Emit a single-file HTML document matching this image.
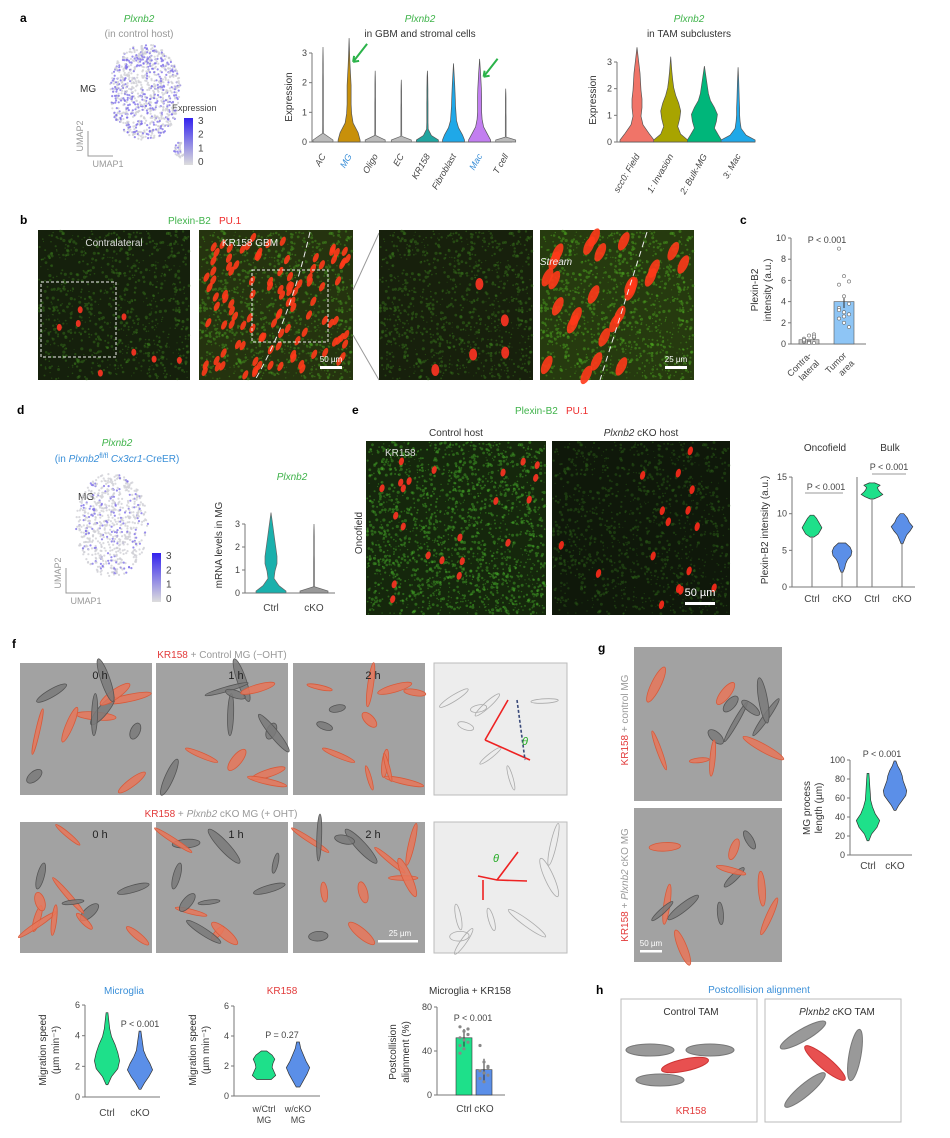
<!DOCTYPE html>
<html><head><meta charset="utf-8"><style>
html,body{margin:0;padding:0;background:#fff}
svg{display:block;font-family:"Liberation Sans",Arial,sans-serif}
.t{font-size:10px;fill:#333}
.tk{font-size:9px;fill:#444}
.pl{font-size:12px;font-weight:bold;fill:#000}
.g{fill:#3fb34a;font-style:italic}
</style></head><body>
<svg id="fig" width="950" height="1138" viewBox="0 0 950 1138">
<g id="static">
<text x="20" y="22" class="pl">a</text>
<text x="139" y="22" class="t g" text-anchor="middle" font-size="11">Plxnb2</text>
<text x="139" y="37" class="t" style="fill:#999" text-anchor="middle" font-size="11">(in control host)</text>
<text x="80" y="92" class="t" font-size="11">MG</text>
<text x="172" y="111" class="tk">Expression</text>
<text x="420" y="22" class="t g" text-anchor="middle" font-size="11">Plxnb2</text>
<text x="420" y="37" class="t" text-anchor="middle" font-size="11">in GBM and stromal cells</text>
<text x="689" y="22" class="t g" text-anchor="middle" font-size="11">Plxnb2</text>
<text x="689" y="37" class="t" text-anchor="middle" font-size="11">in TAM subclusters</text>
<text x="20" y="224" class="pl">b</text>
<text x="168" y="224" class="t" style="fill:#3fb34a" font-size="11">Plexin-B2</text>
<text x="219" y="224" class="t" style="fill:#ee2a2a" font-size="11">PU.1</text>
<text x="740" y="224" class="pl">c</text>
<text x="17" y="414" class="pl">d</text>
<text x="117" y="446" class="t g" text-anchor="middle" font-size="11">Plxnb2</text>
<text x="117" y="462" class="t" style="fill:#3a8fd8" text-anchor="middle" font-size="11">(in <tspan font-style="italic">Plxnb2</tspan><tspan font-size="7" dy="-4">fl/fl</tspan><tspan dy="4"> </tspan><tspan font-style="italic">Cx3cr1</tspan>-CreER)</text>
<text x="78" y="500" class="t" font-size="11">MG</text>
<text x="292" y="480" class="t g" text-anchor="middle" font-size="11">Plxnb2</text>
<text x="352" y="414" class="pl">e</text>
<text x="515" y="414" class="t" style="fill:#3fb34a" font-size="11">Plexin-B2</text>
<text x="566" y="414" class="t" style="fill:#ee2a2a" font-size="11">PU.1</text>
<text x="456" y="436" class="t" text-anchor="middle" font-size="11">Control host</text>
<text x="641" y="436" class="t" text-anchor="middle" font-size="11"><tspan font-style="italic">Plxnb2</tspan> cKO host</text>
<text x="362" y="533" class="t" text-anchor="middle" font-size="11" transform="rotate(-90 362 533)">Oncofield</text>
<text x="825" y="451" class="t" text-anchor="middle" font-size="11">Oncofield</text>
<text x="890" y="451" class="t" text-anchor="middle" font-size="11">Bulk</text>
<text x="12" y="648" class="pl">f</text>
<text x="222" y="658" class="t" text-anchor="middle" font-size="11"><tspan style="fill:#e23a3a">KR158</tspan><tspan style="fill:#999"> + Control MG (−OHT)</tspan></text>
<text x="221" y="817" class="t" text-anchor="middle" font-size="11"><tspan style="fill:#e23a3a">KR158</tspan><tspan style="fill:#999"> + <tspan font-style="italic">Plxnb2</tspan> cKO MG (+ OHT)</tspan></text>
<text x="598" y="652" class="pl">g</text>
<text x="628" y="720" class="t" text-anchor="middle" font-size="10" transform="rotate(-90 628 720)"><tspan style="fill:#e23a3a">KR158</tspan><tspan style="fill:#999"> + control MG</tspan></text>
<text x="628" y="885" class="t" text-anchor="middle" font-size="10" transform="rotate(-90 628 885)"><tspan style="fill:#e23a3a">KR158</tspan><tspan style="fill:#999"> + <tspan font-style="italic">Plxnb2</tspan> cKO MG</tspan></text>
<text x="124" y="994" class="t" style="fill:#3a8fd8" text-anchor="middle" font-size="11">Microglia</text>
<text x="282" y="994" class="t" style="fill:#e23a3a" text-anchor="middle" font-size="11">KR158</text>
<text x="470" y="994" class="t" text-anchor="middle" font-size="11">Microglia + KR158</text>
<text x="596" y="994" class="pl">h</text>
<text x="759" y="993" class="t" style="fill:#3a8fd8" text-anchor="middle" font-size="11">Postcollision alignment</text>
<text x="691" y="1015" class="t" text-anchor="middle" font-size="10">Control TAM</text>
<text x="837" y="1015" class="t" text-anchor="middle" font-size="10"><tspan font-style="italic">Plxnb2</tspan> cKO TAM</text>
</g>
</svg>
<script>
// ---------- data ----------
const a1Cats=["AC","MG","Oligo","EC","KR158","Fibroblast","Mac","T cell"];
const a1Max=[3.2,3.5,2.4,2.1,2.4,2.65,2.8,1.8];
const a1Prof=[[10,0.5,0.4,0.4,0.4,0.4,0.4,0.4,0.3,0.3,0.2,0],[11,9,4,2.5,2,2,2,1.5,1,0.6,0.3,0],[10,0.5,0.4,0.4,0.4,0.4,0.4,0.3,0.3,0.3,0.2,0],[10,0.5,0.4,0.4,0.4,0.4,0.4,0.3,0.3,0.3,0.2,0],[11,4,0.8,0.6,0.6,0.6,0.6,0.5,0.5,0.4,0.3,0],[11,9,5,3,2.5,2,1.8,1.5,1.2,0.8,0.4,0],[11,8,4,2.5,2,2,2,1.8,1.4,1,0.5,0],[10,0.4,0.4,0.4,0.4,0.4,0.3,0.3,0.3,0.3,0.2,0]];
const a1Cols=["#bbb","#c8900a","#bbb","#bbb","#1fa5a0","#1fa8e8","#c27ef0","#bbb"];
const a2Cats=["scc0: Field","1: Invasion","2: Bulk-MG","3: Mac"];
const a2Max=[3.55,3.2,2.85,2.8];
const a2Prof=[[17,12,6,4,5,5,4,3.5,3,2,1,0],[17,10,7,9,10,8,5,3,2,1.2,0.6,0],[17,14,10,12,13,10,6,4,3,2,1,0],[17,8,3,2,1.5,1.5,1.2,1,0.8,0.6,0.3,0]];
const a2Cols=["#f07468","#a8a400","#00b67a","#1fa8e8"];
const cCats=["Contra-\nlateral","Tumor\narea"];
const cMeans=[0.4,4.0];
const cErr=[0.1,0.6];
const cPts=[[0.2,0.3,0.1,0.5,0.8,0.9,0.3,0.2,0.6,0.4,0.1,0.7],[9.0,6.4,5.9,5.6,4.5,3.8,3.4,3.0,2.8,2.4,2.0,1.6,3.2,2.6]];
const dCats=["Ctrl","cKO"];
const dMin=[0,0];const dMax=[3.5,3.0];
const dProf=[[15,8,3,4,6,6,5,4,3,2,1,0],[14,0.4,0.4,0.4,0.4,0.4,0.3,0.3,0.3,0.3,0.2,0]];
const eCats=["Ctrl","cKO","Ctrl","cKO"];
const eMin=[6.8,2.0,12.0,5.9];const eMax=[9.8,6.0,14.2,10.0];
const eProf=[[2,7,9,11,9,7,5,2],[1,3,4,6,10,11,9,4],[2,8,12,9,7,6,9,3],[1,3,5,9,12,8,6,2]];
const gCats=["Ctrl","cKO"];
const gMin=[15,47];const gMax=[86,99];
const gProf=[[1,4,10,13,8,5,3,2.5,2,1.5,1],[1,4,8,12,13,11,9,8,6,3,1]];
const mCats=["Ctrl","cKO"];
const mMin=[0.8,0.5];const mMax=[5.5,4.3];
const mProf=[[1,5,12,14,12,9,5,3,2,1],[1,5,10,14,11,7,4,3,2,1]];
const kCats=["w/Ctrl\nMG","w/cKO\nMG"];
const kMin=[1.1,0.6];const kMax=[3.0,3.6];
const kProf=[[8,13,11,9,10,12,9,3],[2,6,10,13,9,6,3,1.5]];
const pCats=["Ctrl","cKO"];
const pMeans=[52,23];
const pErr=[8,10];
const pPts=[[62,58,55,52,50,48,45,42,60,38],[45,30,26,22,20,18,15,12,25]];

const NS="http://www.w3.org/2000/svg";
const svg=document.getElementById('fig');
function mk(tag,attrs,name,parent){const el=document.createElementNS(NS,tag);for(const k in attrs)el.setAttribute(k,attrs[k]);


(parent||svg).appendChild(el);return el;}
function txt(x,y,s,name,opt){opt=opt||{};const t=mk('text',{x:x,y:y,'font-size':opt.fs||9,fill:opt.fill||'#444','text-anchor':opt.anchor||'middle'},name,opt.parent);
if(opt.rot!==undefined)t.setAttribute('transform','rotate('+opt.rot+' '+x+' '+y+')');
if(opt.it)t.setAttribute('font-style','italic');
const lines=String(s).split('\n');lines.forEach((l,i)=>{const ts=document.createElementNS(NS,'tspan');ts.setAttribute('x',x);ts.setAttribute('dy',i?11:0);ts.textContent=l;t.appendChild(ts);});return t;}
function hash(i){const v=Math.sin(i*12.9898+78.233)*43758.5453;return v-Math.floor(v);}
function axis(ax,x0,x1,y,ticks,name,ext){
 mk('line',{x1:ax,y1:y(ticks[ticks.length-1]),x2:ax,y2:y(ticks[0])+(ext||0),stroke:'#777','stroke-width':1},name+'-y-axis');
 mk('line',{x1:ax,y1:y(ticks[0])+(ext||0),x2:x1,y2:y(ticks[0])+(ext||0),stroke:'#777','stroke-width':1},name+'-x-axis');
 ticks.forEach(t=>{mk('line',{x1:ax-3,y1:y(t),x2:ax,y2:y(t),stroke:'#777'},name+'-y-tick');txt(ax-5,y(t)+3,t,name+'-y-tick-label',{anchor:'end'});});}
function violin(cx,lo,hi,prof,y,fill,stroke,name,scale,flat){
 scale=scale||1;const n=prof.length;let L=[],R=[];
 for(let i=0;i<n;i++){const v=lo+(hi-lo)*i/(n-1);const w=prof[i]*scale;R.push([cx+w,y(v)]);L.push([cx-w,y(v)]);}
 if(flat){R.splice(1,0,[cx+prof[0]*scale,y(lo)-2]);L.splice(1,0,[cx-prof[0]*scale,y(lo)-2]);}
 let d='M'+cx+','+y(lo);R.forEach(p=>d+=' L'+p[0].toFixed(1)+','+p[1].toFixed(1));d+=' L'+cx+','+y(hi);L.reverse().forEach(p=>d+=' L'+p[0].toFixed(1)+','+p[1].toFixed(1));d+='Z';
 mk('path',{d:d,fill:fill,stroke:stroke,'stroke-width':0.7},name);}

// ---------- UMAP ----------
function umap(cx,cy,rx,ry,n,seed,dens,name){
 const g=mk('g',{},name);
 for(let i=0;i<n;i++){const a=hash(seed+i)*6.283,r=Math.sqrt(hash(seed+i+999));let x=cx+Math.cos(a)*rx*r,yy=cy+Math.sin(a)*ry*r;
  const purple=hash(seed+i*3+7)<dens;
  mk('circle',{cx:x.toFixed(1),cy:yy.toFixed(1),r:1.1,fill:purple?'#8070e8':'#cfcfd6','fill-opacity':0.8},'umap-cell',g);}
 return g;}
umap(145,92,36,48,900,1,0.4,'umap-a-cells');
umap(180,150,6,8,40,5000,0.3,'umap-a-tail');
function ubar(x,y0,y1,name){
 const gr=mk('linearGradient',{id:name+'grad',x1:0,y1:1,x2:0,y2:0},name+'-gradient');
 mk('stop',{offset:'0','stop-color':'#ddd'},'grad-stop',gr);mk('stop',{offset:'1','stop-color':'#3322ee'},'grad-stop',gr);
 mk('rect',{x:x,y:y0,width:9,height:y1-y0,fill:'url(#'+name+'grad)'},name);
 [3,2,1,0].forEach((t,i)=>txt(x+14,y0+6+i*(y1-y0-6)/3,t,name+'-tick',{anchor:'start',fs:10}));}
ubar(184,118,165,'umap-a-colorbar');
function uaxes(x,y,name){
 mk('path',{d:'M'+x+','+(y-25)+' L'+x+','+y+' L'+(x+25)+','+y,stroke:'#999',fill:'none'},name);
 txt(x+20,y+11,'UMAP1',name+'-x-label',{fill:'#999',fs:9});txt(x-5,y-20,'UMAP2',name+'-y-label',{fill:'#999',fs:9,rot:-90});}
uaxes(88,156,'umap-a-axes');

// violin a1
const ya1=v=>142-29.67*v;
axis(312,312,512,ya1,[0,1,2,3],'violin-a1');
txt(292,97,'Expression','violin-a1-y-title',{rot:-90,fs:10,fill:'#333'});
const a1X=i=>323+i*26.1;
a1Cats.forEach((c,i)=>{violin(a1X(i),0,a1Max[i],a1Prof[i],ya1,a1Cols[i],a1Cols[i]=='#bbb'?'#666':'#555','violin-'+c.toLowerCase().replace(' ','-'),1,true);
 txt(a1X(i)+3,156,c,'violin-a1-x-label',{anchor:'end',rot:-60,it:true,fill:(c=='MG'||c=='Mac')?'#3a8fd8':'#444'});});
[[1,2.7],[6,2.2]].forEach(p=>{const x=a1X(p[0])+4,y=ya1(p[1]);mk('path',{d:'M'+(x+14)+','+(y-18)+' L'+x+','+y+' M'+x+','+y+' l1,-6 M'+x+','+y+' l6,-1',stroke:'#2bb34a','stroke-width':2,fill:'none'},'green-arrow');});
// violin a2
const ya2=v=>142-26.67*v;
axis(617,617,755,ya2,[0,1,2,3],'violin-a2');
txt(596,100,'Expression','violin-a2-y-title',{rot:-90,fs:10,fill:'#333'});
const a2X=i=>637+i*33.7;
a2Cats.forEach((c,i)=>{violin(a2X(i),0,a2Max[i],a2Prof[i],ya2,a2Cols[i],'#555','violin-tam-'+i,1,true);
 txt(a2X(i)+3,156,c,'violin-a2-x-label',{anchor:'end',rot:-60,it:true});});

// ---------- microscopy ----------
function micro(x,y,w,h,bg,dotCol,nd,seed,red,nr,rw,rh,ang,name){
 const g=mk('g',{},name);
 mk('rect',{x:x,y:y,width:w,height:h,fill:bg},name+'-bg',g);
 for(let i=0;i<nd;i++){mk('circle',{cx:(x+1+hash(seed+i)*(w-2)).toFixed(1),cy:(y+1+hash(seed+i+500)*(h-2)).toFixed(1),r:(0.5+hash(seed+i+77)*1.1).toFixed(1),fill:dotCol,'fill-opacity':0.45},'texture',g);}
 for(let i=0;i<nr;i++){const cx=x+5+hash(seed*3+i)*(w-10),cy=y+5+hash(seed*3+i+333)*(h-10);
  mk('ellipse',{cx:cx.toFixed(1),cy:cy.toFixed(1),rx:rw,ry:rh,fill:red,'fill-opacity':0.9,transform:'rotate('+ang+' '+cx.toFixed(1)+' '+cy.toFixed(1)+')'},'nucleus',g);}
 return g;}
micro(38,230,152,150,'#15200c','#3a7a1c',900,11,'#ff3322',8,2.5,3.5,0,'b-contralateral-image');
txt(114,246,'Contralateral','b-contralateral-label',{fill:'#ddd',fs:10});
mk('rect',{x:41,y:282,width:75,height:75,fill:'none',stroke:'#eee','stroke-dasharray':'3,2'},'b-inset-box');
micro(199,230,154,150,'#25330f','#4aa022',1100,21,'#ff3a1a',110,2.5,5,25,'b-kr158-image');
txt(250,246,'KR158 GBM','b-kr158-label',{fill:'#eee',fs:10});
mk('rect',{x:252,y:270,width:76,height:72,fill:'none',stroke:'#eee','stroke-dasharray':'3,2'},'b-inset-box-2');
mk('path',{d:'M310,232 Q290,320 255,380',stroke:'#eee','stroke-dasharray':'6,4',fill:'none'},'b-boundary');
mk('line',{x1:353,y1:290,x2:379,y2:233,stroke:'#999'},'zoom-line');
mk('line',{x1:353,y1:335,x2:379,y2:380,stroke:'#999'},'zoom-line');
micro(379,230,154,150,'#17200c','#3a7a1c',1000,31,'#ff3322',5,4,6,0,'b-zoom-contralateral');
micro(540,230,154,150,'#263a0f','#50b022',1100,41,'#ff3a1a',26,4.5,10,25,'b-zoom-stream');
txt(556,265,'Stream','b-stream-label',{fill:'#eee',fs:10,it:true});
mk('line',{x1:647,y1:232,x2:600,y2:380,stroke:'#eee','stroke-dasharray':'6,4'},'b-stream-boundary');
mk('rect',{x:320,y:366,width:22,height:3,fill:'#fff'},'b-scale-bar');txt(331,362,'50 µm','b-scale-label',{fill:'#fff',fs:8});
mk('rect',{x:665,y:366,width:22,height:3,fill:'#fff'},'b-scale-bar-2');txt(676,362,'25 µm','b-scale-label-2',{fill:'#fff',fs:8});

micro(366,441,180,174,'#15270c','#48b02a',1800,51,'#ff3322',22,2.5,4,15,'e-control-image');
txt(385,456,'KR158','e-kr158-label',{fill:'#ddd',fs:10,anchor:'start'});
micro(552,441,178,174,'#0f180a','#2c6218',1200,61,'#ff2a1a',16,2.5,4.5,15,'e-cko-image');
mk('rect',{x:685,y:602,width:30,height:3,fill:'#fff'},'e-scale-bar');txt(700,596,'50 µm','e-scale-label',{fill:'#fff',fs:11});

// panel c
const yc=v=>344-10.6*v;
axis(791,791,866,yc,[0,2,4,6,8,10],'c-chart');
txt(758,290,'Plexin-B2','c-y-title',{rot:-90,fs:10,fill:'#333'});txt(771,290,'intensity (a.u.)','c-y-title-2',{rot:-90,fs:10,fill:'#333'});
const cX=i=>809+i*35;
cMeans.forEach((m,i)=>{mk('rect',{x:cX(i)-10,y:yc(m),width:20,height:yc(0)-yc(m),fill:i?'#8ec5f5':'#ccc',stroke:'#555','stroke-width':0.6},'c-bar-'+i);
 mk('line',{x1:cX(i),y1:yc(m-cErr[i]),x2:cX(i),y2:yc(m+cErr[i]),stroke:'#333'},'c-errorbar');
 cPts[i].forEach((p,j)=>mk('circle',{cx:cX(i)-5+(j%3)*5,cy:yc(p),r:1.6,fill:'#fff',stroke:'#666','stroke-width':0.6},'c-point'));
 txt(cX(i)+3,356,cCats[i],'c-x-label',{anchor:'end',rot:-45,fs:9});});
txt(827,243,'P < 0.001','c-pvalue',{fs:9});

// panel d
umap(112,525,36,52,700,7000,0.2,'umap-d-cells');
ubar(152,553,602,'umap-d-colorbar');
uaxes(66,593,'umap-d-axes');
const yd=v=>593-23*v;
axis(245,245,335,yd,[0,1,2,3],'violin-d');
txt(222,545,'mRNA levels in MG','violin-d-y-title',{rot:-90,fs:10,fill:'#333'});
dCats.forEach((c,i)=>{const x=271+i*43;violin(x,dMin[i],dMax[i],dProf[i],yd,i?'#999':'#1ab0ac','#666','violin-d-'+c,1,true);txt(x,611,c,'violin-d-x-label',{fs:10});});

// panel e chart
const ye=v=>587-7.33*v;
axis(792,792,915,ye,[0,5,10,15],'e-chart');
mk('line',{x1:857,y1:477,x2:857,y2:587,stroke:'#777'},'e-separator');
txt(768,530,'Plexin-B2 intensity (a.u.)','e-y-title',{rot:-90,fs:10,fill:'#333'});
const eX=i=>812+i*30;
eCats.forEach((c,i)=>{violin(eX(i),eMin[i],eMax[i],eProf[i],ye,i%2?'#5b8fe8':'#1ee08a','#333','e-violin-'+i,0.9);
 mk('line',{x1:eX(i),y1:ye(eMin[i])-1,x2:eX(i),y2:587,stroke:'#777'},'e-tick');
 txt(eX(i),602,c,'e-x-label',{fs:10});});
mk('line',{x1:805,y1:493,x2:843,y2:493,stroke:'#999'},'e-sig-line');txt(826,490,'P < 0.001','e-pvalue-1',{fs:9});
mk('line',{x1:872,y1:474,x2:906,y2:474,stroke:'#999'},'e-sig-line-2');txt(889,470,'P < 0.001','e-pvalue-2',{fs:9});

// panel f images
function cells(x,y,w,h,seed,name,light){
 const g=mk('g',{},name);
 mk('rect',{x:x,y:y,width:w,height:h,fill:light?'#ededed':'#a2a2a2',stroke:light?'#bbb':'none'},name+'-bg',g);
 const n=light?7:12;
 for(let i=0;i<n;i++){const cx=x+10+hash(seed+i)*(w-20),cy=y+10+hash(seed+i+50)*(h-20),a=hash(seed+i+90)*180;
  const orange=!light&&hash(seed+i+130)<0.55;
  mk('ellipse',{cx:cx.toFixed(1),cy:cy.toFixed(1),rx:(8+hash(seed+i+7)*16).toFixed(1),ry:(2+hash(seed+i+9)*3).toFixed(1),fill:light?'none':(orange?'#e8775a':'#7a7a7a'),stroke:light?'#aaa':(orange?'#d85a3a':'#555'),'stroke-width':0.8,'fill-opacity':0.85,transform:'rotate('+a.toFixed(0)+' '+cx.toFixed(1)+' '+cy.toFixed(1)+')'},'cell',g);}
 return g;}
const fx=[20,156,293,434];const fw=[132,132,132,133];
[663,822].forEach((yy,r)=>{fx.forEach((x,i)=>{cells(x,yy,fw[i],r?131:132,100+r*40+i*9,'f-image-r'+r+'-c'+i,i==3);
 if(i<3)txt(x+80,yy+16,i+' h','f-time-label',{fs:11,fill:'#222'});});});
txt(400,936,'25 µm','f-scale-label',{fill:'#fff',fs:8});mk('rect',{x:378,y:940,width:40,height:2.5,fill:'#fff'},'f-scale-bar');
mk('path',{d:'M485,740 L530,760 M485,740 L508,700',stroke:'#e22',fill:'none','stroke-width':1.6},'f-annot-arrows');
mk('line',{x1:517,y1:700,x2:525,y2:760,stroke:'#3a4a7a','stroke-dasharray':'3,2','stroke-width':1.6},'f-annot-dashed');
txt(525,745,'θ','f-theta',{fill:'#2a2',fs:11,it:true});
mk('path',{d:'M483,900 L483,880 M478,876 L497,880 L527,881 M497,880 L518,852',stroke:'#e22',fill:'none','stroke-width':1.6},'f-annot-arrows-2');
txt(496,862,'θ','f-theta-2',{fill:'#2a2',fs:11,it:true});

// panel g
cells(634,647,148,154,300,'g-image-control',false);
cells(634,808,148,154,340,'g-image-cko',false);
mk('rect',{x:640,y:950,width:22,height:2.5,fill:'#fff'},'g-scale-bar');txt(651,946,'50 µm','g-scale-label',{fill:'#fff',fs:8});
const yg=v=>855-0.95*v;
axis(850,850,912,yg,[0,20,40,60,80,100],'g-chart');
txt(810,808,'MG process','g-y-title',{rot:-90,fs:10,fill:'#333'});txt(822,808,'length (µm)','g-y-title-2',{rot:-90,fs:10,fill:'#333'});
gCats.forEach((c,i)=>{const x=868+i*27;violin(x,gMin[i],gMax[i],gProf[i],yg,i?'#5b8fe8':'#1ee08a','#333','g-violin-'+c,0.9);txt(x,869,c,'g-x-label',{fs:10});});
txt(882,757,'P < 0.001','g-pvalue',{fs:9});

// bottom charts
const ym=v=>1097-15.33*v;
axis(85,85,160,ym,[0,2,4,6],'microglia-chart');
txt(46,1050,'Migration speed','microglia-y-title',{rot:-90,fs:10,fill:'#333'});txt(59,1050,'(µm min⁻¹)','microglia-y-title-2',{rot:-90,fs:10,fill:'#333'});
mCats.forEach((c,i)=>{const x=107+i*33;violin(x,mMin[i],mMax[i],mProf[i],ym,i?'#5b8fe8':'#1ee08a','#333','microglia-violin-'+c,0.9);txt(x,1116,c,'microglia-x-label',{fs:10});});
txt(140,1027,'P < 0.001','microglia-pvalue',{fs:9});
const yk=v=>1096-15*v;
axis(234,234,320,yk,[0,2,4,6],'kr158-chart');
txt(196,1050,'Migration speed','kr158-y-title',{rot:-90,fs:10,fill:'#333'});txt(209,1050,'(µm min⁻¹)','kr158-y-title-2',{rot:-90,fs:10,fill:'#333'});
kCats.forEach((c,i)=>{const x=264+i*34;violin(x,kMin[i],kMax[i],kProf[i],yk,i?'#5b8fe8':'#1ee08a','#333','kr158-violin-'+i,0.9);txt(x,1112,c,'kr158-x-label',{fs:9});});
txt(282,1038,'P = 0.27','kr158-pvalue',{fs:9});
const yp=v=>1095-1.1*v;
axis(437,437,505,yp,[0,40,80],'alignment-chart');
txt(396,1052,'Postcollision','alignment-y-title',{rot:-90,fs:10,fill:'#333'});txt(409,1052,'alignment (%)','alignment-y-title-2',{rot:-90,fs:10,fill:'#333'});
pCats.forEach((c,i)=>{const x=464+i*20;mk('rect',{x:x-8,y:yp(pMeans[i]),width:16,height:yp(0)-yp(pMeans[i]),fill:i?'#5b8fe8':'#1ee08a',stroke:'#333','stroke-width':0.6},'alignment-bar-'+c);
 mk('line',{x1:x,y1:yp(pMeans[i]+pErr[i]),x2:x,y2:yp(pMeans[i]-pErr[i]),stroke:'#333'},'alignment-errorbar');
 pPts[i].forEach((p,j)=>mk('circle',{cx:x-4+(j%3)*4,cy:yp(p),r:1.6,fill:'#888'},'alignment-point'));
 txt(x,1112,c,'alignment-x-label',{fs:10});});
txt(473,1021,'P < 0.001','alignment-pvalue',{fs:9});

// panel h
mk('rect',{x:621,y:999,width:136,height:123,fill:'none',stroke:'#bbb'},'h-control-box');
mk('rect',{x:765,y:999,width:136,height:123,fill:'none',stroke:'#bbb'},'h-cko-box');
txt(691,1114,'KR158','h-kr158-label',{fs:10,fill:'#e23a3a'});
[[650,1050,0],[710,1050,0],[660,1080,0]].forEach(p=>mk('ellipse',{cx:p[0],cy:p[1],rx:24,ry:6,fill:'#999',stroke:'#777'},'h-tam-cell'));
mk('ellipse',{cx:685,cy:1065,rx:24,ry:6,fill:'#e85050',stroke:'#c33',transform:'rotate(-12 685 1065)'},'h-tumor-cell');
[[803,1035,-30],[855,1055,-80],[805,1090,-40]].forEach(p=>mk('ellipse',{cx:p[0],cy:p[1],rx:26,ry:6,fill:'#999',stroke:'#777',transform:'rotate('+p[2]+' '+p[0]+' '+p[1]+')'},'h-tam-cell'));
mk('ellipse',{cx:825,cy:1063,rx:26,ry:6,fill:'#e85050',stroke:'#c33',transform:'rotate(40 825 1063)'},'h-tumor-cell-cko');
</script>
</body></html>
